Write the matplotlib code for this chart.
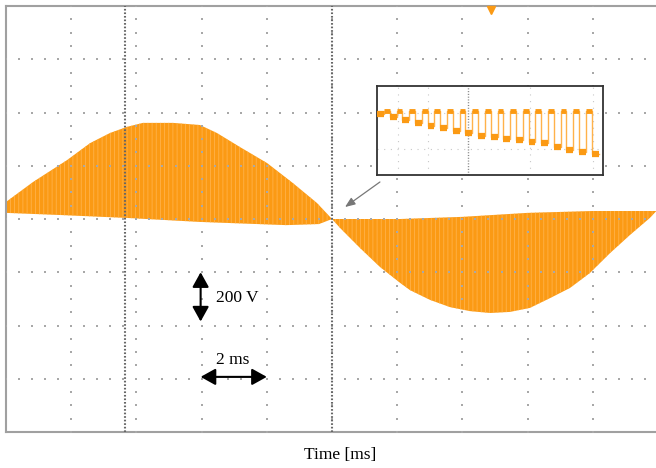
import numpy as np
import matplotlib as mpl
mpl.use("Agg")
import matplotlib.pyplot as plt

# envelope of the PWM output voltage (ms, V)
up1_t = [0.0, 0.83, 1.87, 2.58, 3.19, 3.71, 4.20, 5.12, 5.95, 6.47, 7.18, 8.01, 8.80, 9.54, 10.0]
up1_v = [64, 139, 221, 285, 323, 346, 361, 361, 353, 323, 270, 210, 135, 60, 0]
low1_t = [0.0, 1.66, 3.71, 5.95, 8.6, 9.6, 10.0]
low1_v = [23, 15, 4, -11, -23, -19, 0]

up2_t = [10.0, 12.1, 14.0, 16.0, 18.0, 19.95]
up2_v = [0, 0, 8, 23, 30, 30]
low2_t = [10.0, 10.25, 10.86, 11.47, 12.09, 12.39, 13.01, 13.62, 14.23, 14.85,
          15.46, 16.07, 16.69, 17.3, 17.91, 18.53, 19.14, 19.75, 19.95]
low2_v = [0, -34, -109, -180, -240, -267, -304, -331, -346, -353,
          -349, -334, -297, -259, -203, -128, -60, 4, 30]

# zoomed view of the pulses near the zero crossing
inset_high = 19.5
inset_lows = [16.5, 13.5, 10.5, 7.5, 4.5, 2.5, -0.5, -2.5, -5.5, -6.5,
              -8.5, -9.5, -11.5, -12.5, -16.5, -19.5, -21.5, -23.5]
duty_low = 0.55

cursors_t = [3.65, 10.0]
trigger_t, trigger_v = 14.88, 785

orange = "#fb9a14"
stripe = "#ffb24a"
plt.rcParams["hatch.linewidth"] = 0.6
serif = ["Liberation Serif", "DejaVu Serif"]

fig = plt.figure(figsize=(6.56, 4.68), dpi=100)
ax = fig.add_axes([6/656, 36/468, 652/656, 426/468])
ax.set_xlim(0, 20)
ax.set_ylim(-800, 800)
ax.set_xticks([])
ax.set_yticks([])
for s in ["left", "top", "bottom"]:
    ax.spines[s].set_color("#a0a0a0")
    ax.spines[s].set_linewidth(1.5)
ax.spines["right"].set_visible(False)

# waveform, drawn as two filled envelopes
ax.fill(np.concatenate([up1_t, low1_t[::-1]]), np.concatenate([up1_v, low1_v[::-1]]),
        facecolor=orange, edgecolor=stripe, linewidth=0, hatch="||||", zorder=2)
ax.fill(np.concatenate([up2_t, low2_t[::-1]]), np.concatenate([up2_v, low2_v[::-1]]),
        facecolor=orange, edgecolor=stripe, linewidth=0, hatch="||||", zorder=2)

# dotted scope graticule
gx = np.arange(2, 20, 2)
gy = np.arange(-600, 601, 200)
dots_t = np.arange(0, 20.01, 0.4)
dots_v = np.arange(-800, 801, 50)
for v in gy:
    ax.scatter(dots_t, np.full_like(dots_t, v), s=2.5, marker="s", color="#a8a8a8", linewidths=0, zorder=3)
for t in gx:
    ax.scatter(np.full_like(dots_v, t, dtype=float), dots_v, s=2.5, marker="s", color="#a8a8a8", linewidths=0, zorder=3)
for t in cursors_t:
    ax.axvline(t, color="#666666", lw=1.5, linestyle=(0, (0.8, 0.9)), zorder=3)

# trigger marker
ax.plot([trigger_t], [trigger_v], marker="v", color=orange, markersize=6, clip_on=False, zorder=4)

# scale bars
ax.annotate("", xy=(5.97, -385), xytext=(5.97, -200),
            arrowprops=dict(arrowstyle="<|-|>,head_length=0.45,head_width=0.25",
                            mutation_scale=20, lw=1.5, color="black", shrinkA=0, shrinkB=0))
ax.text(6.44, -297, "200 V", fontsize=12.5, family=serif, ha="left", va="center")
ax.annotate("", xy=(8.0, -593), xytext=(5.97, -593),
            arrowprops=dict(arrowstyle="<|-|>,head_length=0.45,head_width=0.25",
                            mutation_scale=20, lw=1.5, color="black", shrinkA=0, shrinkB=0))
ax.text(6.96, -530, "2 ms", fontsize=12.5, family=serif, ha="center", va="center")

# pointer from the inset to the zero crossing
ax.annotate("", xy=(10.40, 45), xytext=(11.47, 139),
            arrowprops=dict(arrowstyle="-|>,head_length=0.5,head_width=0.2",
                            mutation_scale=12, lw=0.9, color="#777777", shrinkA=0, shrinkB=0))

fig.text(0.518, 0.028, "Time [ms]", fontsize=12.5, family=serif, ha="center", va="center")

# inset
ins = fig.add_axes([377/656, (468-175)/468, 226/656, 89/468])
n = len(inset_lows)
ins.set_xlim(0, n - 0.1)
ins.set_ylim(-44.5, 44.5)
ins.set_xticks([])
ins.set_yticks([])
for s in ins.spines.values():
    s.set_color("#333333")
    s.set_linewidth(1.3)
for t in [1.7, 4.0, 12.1, 17.1]:
    ins.axvline(t, color="#c8c8c8", lw=0.8, linestyle=(0, (1, 5)), zorder=1)
for v in [18, -18]:
    ins.axhline(v, color="#c8c8c8", lw=0.8, linestyle=(0, (1, 5)), zorder=1)
ins.axvline(7.2, color="#888888", lw=1.0, linestyle=(0, (0.8, 1.2)), zorder=1)

xs, ys = [], []
for k, lo in enumerate(inset_lows):
    end = k + 1 if k < n - 1 else n - 0.1
    xs += [k, k + duty_low]
    ys += [lo, lo]
    if k < n - 1:
        xs += [k + duty_low, end]
        ys += [inset_high, inset_high]
ins.plot(xs, ys, color=stripe, lw=1.0, zorder=2)
lo_start = np.arange(n)
lo_end = lo_start + duty_low
ins.hlines(inset_lows, lo_start, lo_end, color=orange, lw=4.5, zorder=3)
hi_start = lo_end[:-1]
ins.hlines(np.full(n - 1, inset_high), hi_start, hi_start + (1 - duty_low), color=orange, lw=3.5, zorder=3)

plt.savefig("out.png", dpi=100)
